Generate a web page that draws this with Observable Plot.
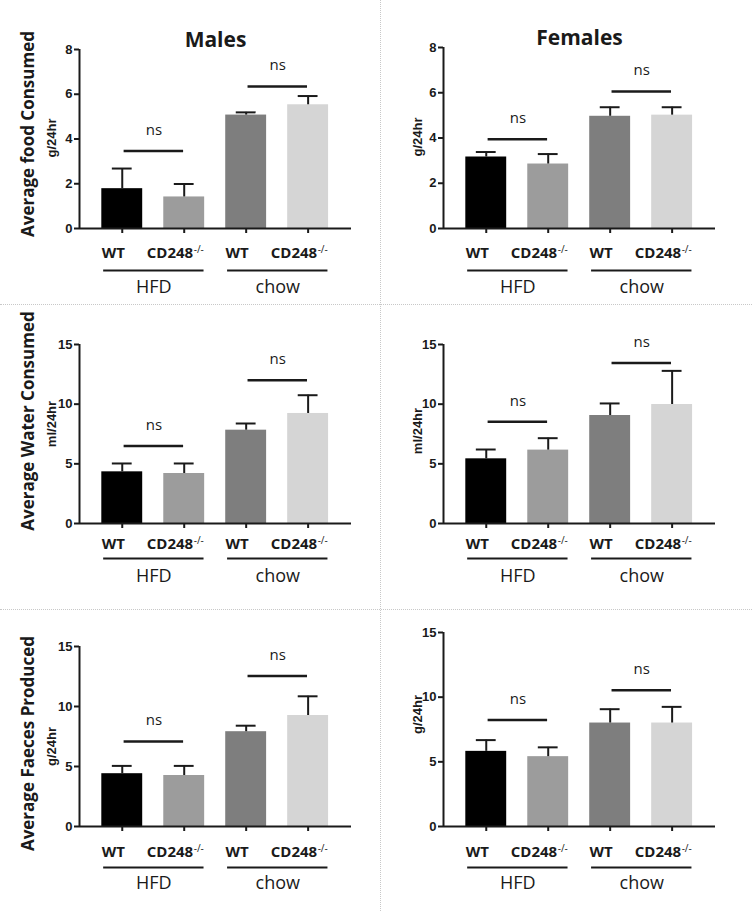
<!DOCTYPE html>
<html>
<head>
<meta charset="utf-8">
<script src="https://cdn.jsdelivr.net/npm/d3@7"></script>
<script src="https://cdn.jsdelivr.net/npm/@observablehq/plot@0.6"></script>
<style>
  body { margin: 0; background: #fff; }
  #page { position: relative; width: 752px; height: 911px; overflow: hidden; background: #fff; }
  .panel { position: absolute; }
  .vline { position: absolute; left: 380px; top: 0; height: 911px; border-left: 1px dotted #c8c8c8; }
  .hline { position: absolute; left: 0; width: 752px; border-top: 1px dotted #c8c8c8; }
</style>
</head>
<body>
<div id="page">
  <div class="vline"></div>
  <div class="hline" style="top:304px"></div>
  <div class="hline" style="top:609px"></div>
</div>
<script>
// Bars: diet x genotype (mean and upper error bar length).
const genotypes = ["WT", "CD248", "WT", "CD248"];
const diets = ["HFD", "HFD", "chow", "chow"];
const groupNames = ["HFD", "chow"];

const maleFood = [1.78, 1.41, 5.07, 5.53];
const maleFoodErr = [0.90, 0.58, 0.12, 0.39];
const femaleFood = [3.16, 2.85, 4.96, 5.01];
const femaleFoodErr = [0.22, 0.44, 0.40, 0.35];

const maleWater = [4.33, 4.19, 7.82, 9.22];
const maleWaterErr = [0.70, 0.84, 0.56, 1.53];
const femaleWater = [5.42, 6.15, 9.05, 9.97];
const femaleWaterErr = [0.78, 1.00, 1.01, 2.82];

const maleFaeces = [4.40, 4.25, 7.90, 9.25];
const maleFaecesErr = [0.65, 0.80, 0.50, 1.60];
const femaleFaeces = [5.81, 5.40, 8.00, 8.00];
const femaleFaecesErr = [0.87, 0.72, 1.07, 1.25];

// height of the "ns" comparison bars (HFD pair, chow pair)
const nsMaleFood = [3.46, 6.35];
const nsFemaleFood = [3.95, 6.05];
const nsMaleWater = [6.5, 12.0];
const nsFemaleWater = [8.52, 13.46];
const nsMaleFaeces = [7.08, 12.55];
const nsFemaleFaeces = [8.23, 10.54];

const foodTicks = [0, 2, 4, 6, 8];
const fifteenTicks = [0, 5, 10, 15];

const fills = ["#000000", "#9c9c9c", "#7e7e7e", "#d5d5d5"];
const ink = "#1a1a1a";
const sans = "'Open Sans', 'DejaVu Sans', sans-serif";
const arial = "'Liberation Sans', Arial, sans-serif";

function panel(cfg) {
  const rows = cfg.values.map((v, k) => ({
    i: k + 1, value: v, err: cfg.errs[k], genotype: genotypes[k], diet: diets[k], fill: fills[k]
  }));
  const groups = groupNames.map((name, g) => ({ name, a: 2 * g + 1, b: 2 * g + 2, ns: cfg.ns[g] }));
  const L = cfg.layout;
  const top = cfg.ticks[cfg.ticks.length - 1];
  const marks = [
    Plot.rectY(rows, { x1: (d) => d.i - 0.33, x2: (d) => d.i + 0.33, y: "value", fill: "fill" }),
    Plot.ruleX(rows, { x: "i", y1: "value", y2: (d) => d.value + d.err, stroke: ink, strokeWidth: 2 }),
    Plot.ruleY(rows, { y: (d) => d.value + d.err, x1: (d) => d.i - 0.16, x2: (d) => d.i + 0.16, stroke: ink, strokeWidth: 2 }),
    Plot.axisY({ ticks: cfg.ticks, tickSize: 5, tickPadding: 2, fontSize: 13, fontWeight: "bold", fontFamily: arial, fill: ink, stroke: ink, strokeWidth: 2, label: null, tickFormat: (d) => d }),
    Plot.axisX({ ticks: [1, 2, 3, 4], tickSize: 5, stroke: ink, strokeWidth: 2, label: null, tickFormat: () => "" }),
    Plot.ruleY([0], { stroke: ink, strokeWidth: 2 }),
    Plot.ruleX([0.31], { y1: 0, y2: top, stroke: ink, strokeWidth: 2 }),
    // ns comparison bars
    Plot.ruleY(groups, { y: "ns", x1: (g) => g.a + 0.03, x2: (g) => g.b - 0.01, stroke: ink, strokeWidth: 2.5 }),
    Plot.text(groups, { x: (g) => (g.a + g.b) / 2 + 0.01, y: "ns", dy: -21, text: () => "ns", fontSize: 15, fill: ink, fontFamily: sans }),
    // genotype labels below the axis
    Plot.text(rows.filter((d) => d.genotype === "WT"), { x: "i", frameAnchor: "bottom", dy: L.lab, dx: -9, text: "genotype", fontSize: 15, fontWeight: "bold", fill: ink, fontFamily: sans }),
    Plot.text(rows.filter((d) => d.genotype !== "WT"), { x: "i", frameAnchor: "bottom", dy: L.lab, dx: 9, textAnchor: "end", text: "genotype", fontSize: 15, fontWeight: "bold", fill: ink, fontFamily: sans }),
    Plot.text(rows.filter((d) => d.genotype !== "WT"), { x: "i", frameAnchor: "bottom", dy: L.lab - 5, dx: 9.5, textAnchor: "start", text: () => "-/-", fontSize: 10, fill: ink, fontFamily: sans }),
    // diet group lines and labels
    Plot.ruleY(groups, { y: () => 0, dy: L.line, x1: (g) => g.a - 0.3, x2: (g) => g.b + 0.32, stroke: ink, strokeWidth: 2 }),
    Plot.text(groups, { x: (g) => (g.a + g.b) / 2 + 0.01, frameAnchor: "bottom", dy: L.grp, text: "name", fontSize: 18, fill: ink, fontFamily: sans }),
    // y titles
    Plot.text([cfg.unit], { frameAnchor: "left", dx: cfg.unitDx, dy: cfg.unitDy, rotate: -90, textAnchor: "middle", text: (d) => d, fontSize: 13, fontWeight: "bold", fill: ink, fontFamily: arial })
  ];
  if (cfg.label) {
    marks.push(Plot.text([cfg.label], { frameAnchor: "left", dx: -51, dy: cfg.labelDy, rotate: -90, textAnchor: "middle", text: (d) => d, fontSize: 17, fontWeight: "bold", fill: ink, fontFamily: sans }));
  }
  if (cfg.title) {
    marks.push(Plot.text([cfg.title], { frameAnchor: "top", dy: -17, text: (d) => d, fontSize: 21, fontWeight: "bold", fill: ink, fontFamily: sans }));
  }
  const fig = Plot.plot({
    width: cfg.width,
    height: cfg.height,
    marginLeft: cfg.ml,
    marginRight: cfg.width - cfg.ml - 272,
    marginTop: cfg.mt,
    marginBottom: cfg.mb,
    style: { background: "transparent", fontFamily: sans, overflow: "visible" },
    x: { domain: [0.31, 4.7], axis: null },
    y: { domain: [0, top], axis: null },
    marks
  });
  const el = document.createElement("div");
  el.className = "panel";
  el.style.left = cfg.left + "px";
  el.style.top = cfg.top + "px";
  el.appendChild(fig);
  document.getElementById("page").appendChild(el);
}

const row1 = { lab: 29, line: 42, grp: 64 };
const row2 = { lab: 25, line: 35, grp: 58 };
const row3 = { lab: 30, line: 41, grp: 62 };

panel({ title: "Males", label: "Average food Consumed", unit: "g/24hr", values: maleFood, errs: maleFoodErr, ns: nsMaleFood, ticks: foodTicks,
  left: 0, top: 0, width: 376, height: 303, ml: 79, mt: 49, mb: 75, unitDx: -28, unitDy: -1, labelDy: -5, layout: row1 });
panel({ title: "Females", unit: "g/24hr", values: femaleFood, errs: femaleFoodErr, ns: nsFemaleFood, ticks: foodTicks,
  left: 381, top: 0, width: 371, height: 303, ml: 62, mt: 47, mb: 75, unitDx: -26, unitDy: -1, layout: row1 });
panel({ label: "Average Water Consumed", unit: "ml/24hr", values: maleWater, errs: maleWaterErr, ns: nsMaleWater, ticks: fifteenTicks,
  left: 0, top: 303, width: 376, height: 305, ml: 79, mt: 41, mb: 85, unitDx: -28, unitDy: -10, labelDy: -13, layout: row2 });
panel({ unit: "ml/24hr", values: femaleWater, errs: femaleWaterErr, ns: nsFemaleWater, ticks: fifteenTicks,
  left: 381, top: 303, width: 371, height: 305, ml: 62, mt: 41, mb: 85, unitDx: -26, unitDy: -3, layout: row2 });
panel({ label: "Average Faeces Produced", unit: "g/24hr", values: maleFaeces, errs: maleFaecesErr, ns: nsMaleFaeces, ticks: fifteenTicks,
  left: 0, top: 608, width: 376, height: 303, ml: 79, mt: 38, mb: 85, unitDx: -28, unitDy: 10, labelDy: 7, layout: row3 });
panel({ unit: "g/24hr", values: femaleFaeces, errs: femaleFaecesErr, ns: nsFemaleFaeces, ticks: fifteenTicks,
  left: 381, top: 608, width: 371, height: 303, ml: 62, mt: 24, mb: 85, unitDx: -26, unitDy: -15, layout: row3 });
</script>
</body>
</html>
